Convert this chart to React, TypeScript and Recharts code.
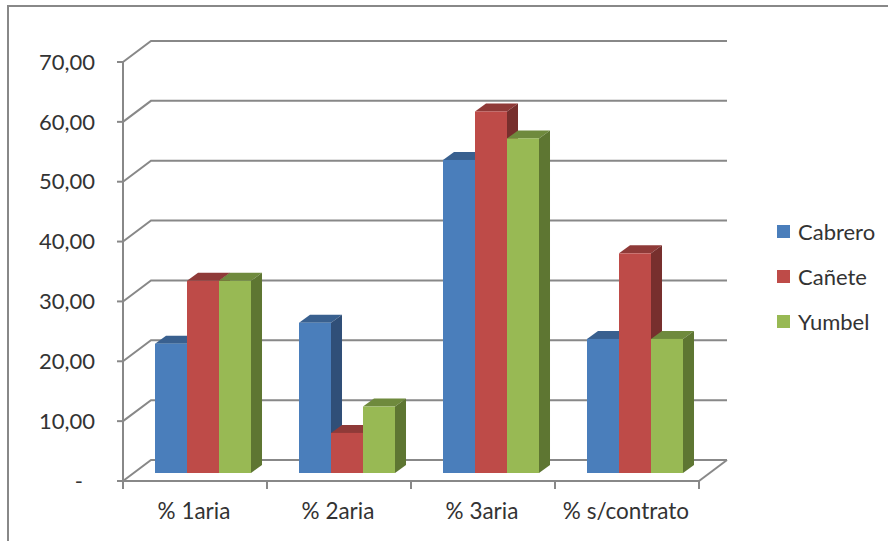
import React from "react";
import { BarChart, Bar, XAxis, YAxis, Legend, CartesianGrid } from "recharts";

const categories = ["% 1aria", "% 2aria", "% 3aria", "% s/contrato"];
const cabrero = [21.6, 25.1, 52.3, 22.4];
const canete = [32.1, 6.7, 60.4, 36.7];
const yumbel = [32.1, 11.1, 55.9, 22.4];
const yTicks = [0, 10, 20, 30, 40, 50, 60, 70];

const data = categories.map((name, i) => ({
  name,
  Cabrero: cabrero[i],
  Canete: canete[i],
  Yumbel: yumbel[i],
}));

const W = 890;
const H = 541;
const LEFT = 123;
const PLOT_W = 576;
const STEP = PLOT_W / categories.length;
const DEPTH_X = 28;
const DEPTH_Y = 21;
const GRID = "#888888";
const TEXT = "#333333";
const FONT = "Lato, Carlito, sans-serif";

const Bar3D = (front: string, top: string, side: string) => (props: any) => {
  const dx = 11;
  const dy = 8;
  const x = props.x + 8;
  const y = props.y - 8;
  const w = props.width;
  const h = props.height;
  return (
    <g>
      <polygon points={`${x},${y} ${x + dx},${y - dy} ${x + w + dx},${y - dy} ${x + w},${y}`} fill={top} />
      <polygon points={`${x + w},${y} ${x + w + dx},${y - dy} ${x + w + dx},${y + h - dy} ${x + w},${y + h}`} fill={side} />
      <rect x={x} y={y} width={w} height={h} fill={front} />
    </g>
  );
};

const GridLine3D = (props: any) => {
  const { x1, x2, y1 } = props;
  return (
    <polyline
      points={`${x1},${y1} ${x1 + DEPTH_X},${y1 - DEPTH_Y} ${x2 + DEPTH_X},${y1 - DEPTH_Y}`}
      fill="none"
      stroke={GRID}
      strokeWidth={2}
    />
  );
};

const YTick = (props: any) => {
  const { y, payload } = props;
  const label = payload.value === 0 ? "-" : payload.value.toFixed(2).replace(".", ",");
  return (
    <g>
      <line x1={117} x2={LEFT} y1={y} y2={y} stroke={GRID} strokeWidth={2} />
      <text
        x={payload.value === 0 ? 83 : 95}
        y={y}
        dy="0.35em"
        textAnchor="end"
        fontSize={22}
        fontFamily={FONT}
        fill={TEXT}
      >
        {label}
      </text>
    </g>
  );
};

const XTick = (props: any) => {
  const { x, payload, index } = props;
  const axisY = 481;
  const last = index === categories.length - 1;
  return (
    <g>
      <line x1={x - STEP / 2} x2={x - STEP / 2} y1={axisY} y2={axisY + 8} stroke={GRID} strokeWidth={2} />
      {last && (
        <>
          <line x1={x + STEP / 2} x2={x + STEP / 2} y1={axisY} y2={axisY + 8} stroke={GRID} strokeWidth={2} />
          <line x1={x + STEP / 2} x2={x + STEP / 2 + DEPTH_X} y1={axisY} y2={axisY - DEPTH_Y} stroke={GRID} strokeWidth={2} />
        </>
      )}
      <text x={x - 1} y={axisY + 38} textAnchor="middle" fontSize={22.5} fontFamily={FONT} fill={TEXT}>
        {payload.value}
      </text>
    </g>
  );
};

const LegendContent = (props: any) => (
  <div style={{ fontFamily: FONT, fontSize: 22, color: TEXT }}>
    {props.payload.map((p: any) => (
      <div key={p.value} style={{ display: "flex", alignItems: "center", height: 45 }}>
        <span style={{ width: 13, height: 13, background: p.color, marginRight: 8, display: "inline-block" }} />
        <span>{p.value}</span>
      </div>
    ))}
  </div>
);

export default function App() {
  return (
    <div style={{ position: "absolute", left: 0, top: 0, width: W, height: H, background: "#fff", overflow: "hidden" }}>
      <div
        style={{
          position: "absolute",
          left: 7,
          top: 5,
          width: 881,
          height: 536,
          boxSizing: "border-box",
          borderTop: `2px solid ${GRID}`,
          borderLeft: `2px solid ${GRID}`,
        }}
      />
      <div style={{ position: "absolute", left: 0, top: 0 }}>
        <BarChart
          width={W}
          height={H}
          data={data}
          margin={{ top: 62, right: W - LEFT - PLOT_W, bottom: 0, left: 0 }}
          barCategoryGap="16.67%"
          barGap={0}
        >
          <CartesianGrid vertical={false} horizontal={<GridLine3D />} syncWithTicks />
          <XAxis
            dataKey="name"
            axisLine={{ stroke: GRID, strokeWidth: 2 }}
            tickLine={false}
            tickSize={0}
            tickMargin={0}
            interval={0}
            height={60}
            tick={<XTick />}
          />
          <YAxis
            domain={[0, 70]}
            ticks={yTicks}
            interval={0}
            width={LEFT}
            axisLine={{ stroke: GRID, strokeWidth: 2 }}
            tickLine={false}
            tick={<YTick />}
          />
          <Legend
            layout="vertical"
            align="center"
            verticalAlign="middle"
            wrapperStyle={{ left: 777, top: 209, width: 110 }}
            content={<LegendContent />}
          />
          <Bar dataKey="Cabrero" name="Cabrero" fill="#4a7ebb" isAnimationActive={false} shape={Bar3D("#4a7ebb", "#39608f", "#304f78")} />
          <Bar dataKey="Canete" name="Cañete" fill="#be4b48" isAnimationActive={false} shape={Bar3D("#be4b48", "#8f3a38", "#772f2d")} />
          <Bar dataKey="Yumbel" name="Yumbel" fill="#98b954" isAnimationActive={false} shape={Bar3D("#98b954", "#6f8a3d", "#5e7632")} />
        </BarChart>
      </div>
    </div>
  );
}
